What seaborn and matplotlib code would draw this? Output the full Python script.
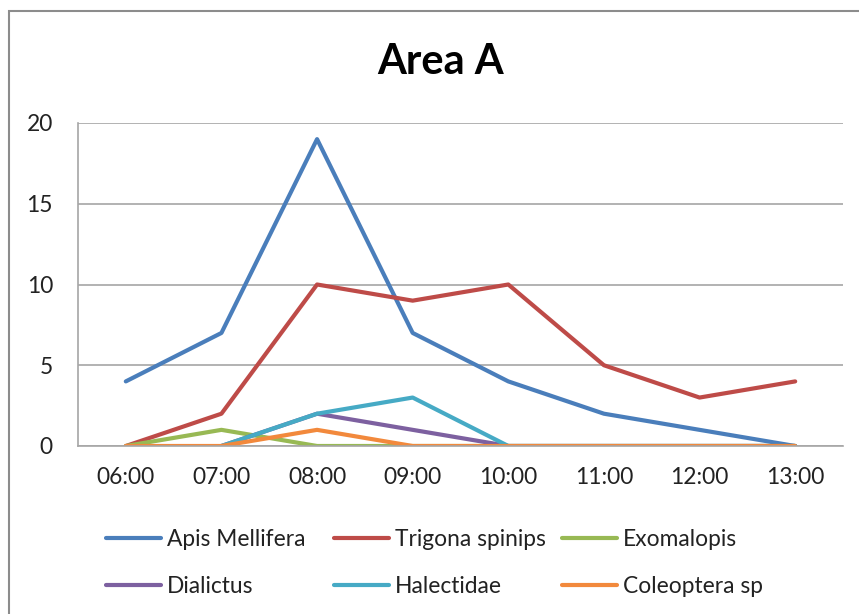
import matplotlib
matplotlib.use("Agg")
import matplotlib.pyplot as plt
from matplotlib.patches import Rectangle
from matplotlib.lines import Line2D
import seaborn as sns
import pandas as pd
import numpy as np

hours = ["06:00", "07:00", "08:00", "09:00", "10:00", "11:00", "12:00", "13:00"]
apis_mellifera = [4, 7, 19, 7, 4, 2, 1, 0]
trigona_spinips = [0, 2, 10, 9, 10, 5, 3, 4]
exomalopis = [0, 1, 0, 0, 0, 0, 0, 0]
dialictus = [np.nan, 0, 2, 1, 0, 0, 0, 0]
halectidae = [np.nan, 0, 2, 3, 0, 0, 0, 0]
coleoptera_sp = [0, 0, 1, 0, 0, 0, 0, 0]

series_names = ["Apis Mellifera", "Trigona spinips", "Exomalopis",
                "Dialictus", "Halectidae", "Coleoptera sp"]
series_values = [apis_mellifera, trigona_spinips, exomalopis,
                 dialictus, halectidae, coleoptera_sp]
colors = ["#4A7EBB", "#BE4B48", "#98B954", "#7D60A0", "#46AAC5", "#F2893C"]

rows = []
for name, vals in zip(series_names, series_values):
    for h, v in zip(hours, vals):
        rows.append({"hour": h, "count": v, "species": name})
df = pd.DataFrame(rows)

sns.set_style("white")
plt.rcParams["font.family"] = ["Lato", "DejaVu Sans"]

FS = 16.4
fig = plt.figure(figsize=(8.59, 6.14), dpi=100)
ax = fig.add_axes([78/859, 1-446/614, (843-78)/859, (446-123)/614])

sns.lineplot(data=df, x="hour", y="count", hue="species",
             hue_order=series_names, palette=colors, linewidth=3.0,
             ax=ax, legend=False, sort=False)

ax.set_xlim(-0.5, 7.5)
ax.set_ylim(0, 20)
ax.set_yticks([0, 5, 10, 15, 20])
ax.set_xticks(range(len(hours)))
ax.set_xticklabels(hours)
ax.yaxis.grid(True, color="#A6A6A6", linewidth=1.2)
ax.xaxis.grid(False)
ax.set_axisbelow(True)
ax.set_xlabel("")
ax.set_ylabel("")
for s in ["top", "right"]:
    ax.spines[s].set_visible(False)
for s in ["left", "bottom"]:
    ax.spines[s].set_color("#A6A6A6")
    ax.spines[s].set_linewidth(1.2)
ax.tick_params(axis="y", length=0, pad=18, labelsize=FS, colors="#222222")
ax.tick_params(axis="x", length=0, pad=15, labelsize=FS, colors="#222222")

fig.text(441/859, 1-62/614, "Area A", ha="center", va="center",
         fontsize=30, fontweight="bold", color="black")

# legend: three columns placed at the reference column positions
handles = {n: Line2D([], [], color=c, linewidth=3.0) for n, c in zip(series_names, colors)}
columns = [["Apis Mellifera", "Dialictus"],
           ["Trigona spinips", "Halectidae"],
           ["Exomalopis", "Coleoptera sp"]]
col_x = [106, 334, 562]
for names, x0 in zip(columns, col_x):
    leg = fig.legend([handles[n] for n in names], names, ncol=1, frameon=False,
                     loc="upper left", bbox_to_anchor=(x0/859, 1-529/614),
                     borderpad=0, borderaxespad=0, fontsize=FS,
                     handlelength=2.41, handletextpad=0.26,
                     labelspacing=1.15, labelcolor="#222222")

fig.patches.append(Rectangle((8.5/859, -0.1), 1.2, 1-11/614+0.1,
                             transform=fig.transFigure, fill=False,
                             edgecolor="#8C8C8C", linewidth=1.5))

fig.savefig("out.png", dpi=100, facecolor="white")
